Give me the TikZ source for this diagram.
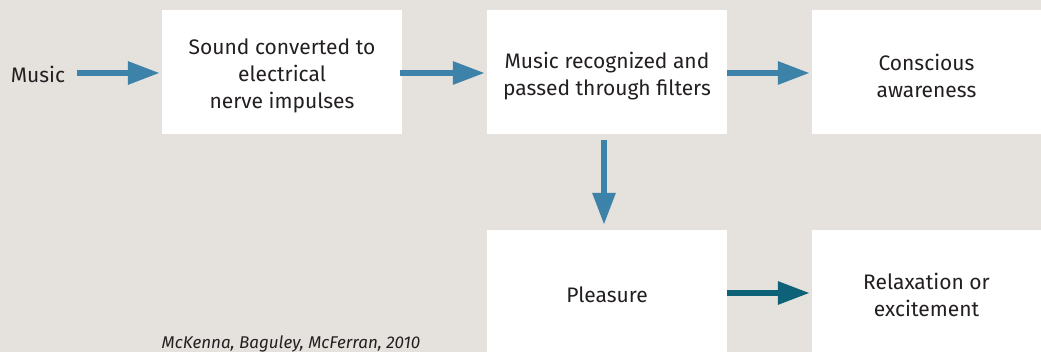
\documentclass[tikz,border=0pt]{standalone}
\usepackage{fontspec}
\setmainfont{Fira Sans}
\usetikzlibrary{positioning, arrows.meta}

\definecolor{bgcol}{HTML}{E5E2DE}
\definecolor{flowblue}{HTML}{3D82A9}
\definecolor{flowteal}{HTML}{0D6278}
\definecolor{txtcol}{HTML}{231F20}
\newcommand{\topstrut}{\rule{0pt}{24pt}}

\begin{document}
\begin{tikzpicture}[x=1pt, y=-1pt, node distance=2cm, on grid,
    box/.style={fill=white, minimum width=240pt, minimum height=124pt, inner sep=0pt, align=center,
      text=txtcol, font=\fontsize{21}{27}\selectfont},
    flow/.style={-{Triangle[length=32pt, width=22pt]}, line width=6pt, draw=flowblue}]
    \fill[bgcol] (0,0) rectangle (1041,352);
    \useasboundingbox (0,0) rectangle (1041,352);

    \node[text=txtcol, font=\fontsize{21}{27}\selectfont] (Music) at (38,74) {Music};
    \node[box] (Sound) at (282,72) {\topstrut Sound converted to\\electrical\\nerve impulses};
    \node[box, right=325pt of Sound] (Filter) {\topstrut Music recognized and\\passed through filters};
    \node[box, minimum width=229pt, right=319.5pt of Filter] (Aware) {\topstrut Conscious\\awareness};
    \node[box, minimum height=122pt, below=219pt of Filter] (Pleasure) {\topstrut Pleasure};
    \node[box, minimum width=229pt, minimum height=122pt, right=319.5pt of Pleasure] (Relax) {\topstrut Relaxation or\\excitement};

    \draw[flow, shorten <=8pt, shorten >=2pt] (Music.east |- 0,73) -- (Sound.west |- 0,73);
    \draw[flow, shorten <=-2pt, shorten >=2pt] (Sound.east |- 0,73) -- (Filter.west |- 0,73);
    \draw[flow, shorten >=2pt] (Filter.east |- 0,73) -- (Aware.west |- 0,73);
    \draw[flow, shorten <=6pt, shorten >=5pt] (Filter.south -| 604,0) -- (Pleasure.north -| 604,0);
    \draw[flow, draw=flowteal, shorten >=2pt] (Pleasure.east |- 0,293) -- (Relax.west |- 0,293);

    % source line
    \node[text=txtcol, font=\fontsize{17}{20}\selectfont\itshape] (Source) at (291,344) {McKenna, Baguley, McFerran, 2010};
\end{tikzpicture}
\end{document}
